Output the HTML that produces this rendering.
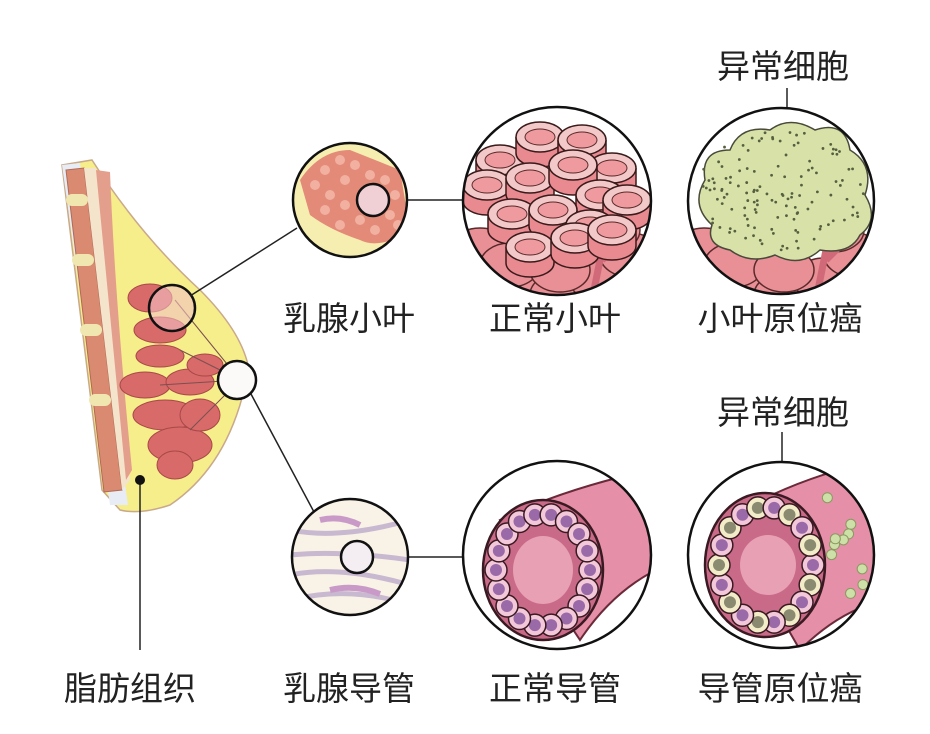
<!DOCTYPE html>
<html><head><meta charset="utf-8"><style>
html,body{margin:0;padding:0;background:#fff;}
svg{display:block}
text{font-family:"Liberation Sans","Noto Sans CJK SC",sans-serif;font-size:33px;fill:#222;text-anchor:middle}
</style></head><body>
<svg id="s" width="930" height="734" viewBox="0 0 930 734" xmlns="http://www.w3.org/2000/svg">
<defs>
<clipPath id="c1"><circle cx="350" cy="200" r="57"/></clipPath>
<clipPath id="c2"><circle cx="350" cy="557" r="58"/></clipPath>
<clipPath id="c3"><circle cx="557" cy="201" r="94"/></clipPath>
<clipPath id="c4"><circle cx="781" cy="201" r="93"/></clipPath>
<clipPath id="c5"><circle cx="557" cy="555" r="94"/></clipPath>
<clipPath id="c6"><circle cx="781" cy="555" r="93"/></clipPath>
</defs>
<rect width="930" height="734" fill="#fff"/>
<!-- breast -->
<path d="M62 165 L92 160 Q140 235 200 290 Q240 330 248 365 Q258 385 242 398 Q222 470 170 505 Q140 515 120 510 L102 490 Z" fill="#f6ee8a" stroke="#c9a98a" stroke-width="1.5"/>
<path d="M62 165 L80 163 L128 505 L110 505 Z" fill="#e7ecf5"/>
<path d="M66 170 L84 168 L122 490 L104 492 Z" fill="#d98a70" stroke="#b06a55"/>
<path d="M84 168 L96 168 L130 480 L122 490 Z" fill="#f4e4cc"/>
<path d="M72 200 l10 0 M78 260 l10 0 M86 330 l10 0 M95 400 l10 0" stroke="#f0e6b0" stroke-width="12" stroke-linecap="round"/>
<path d="M96 170 L110 172 Q115 300 132 470 L126 480 Z" fill="#e49e8c"/>
<g fill="#d96a6a" stroke="#a84848" stroke-width="1">
<ellipse cx="150" cy="298" rx="22" ry="14"/>
<ellipse cx="160" cy="330" rx="26" ry="13"/>
<ellipse cx="160" cy="356" rx="24" ry="11"/>
<ellipse cx="145" cy="385" rx="25" ry="13"/>
<ellipse cx="190" cy="382" rx="24" ry="13"/>
<ellipse cx="165" cy="415" rx="32" ry="15"/>
<ellipse cx="180" cy="445" rx="32" ry="18"/>
<ellipse cx="200" cy="415" rx="20" ry="16"/>
<ellipse cx="175" cy="465" rx="18" ry="14"/>
<ellipse cx="205" cy="365" rx="18" ry="11"/>
</g>
<path d="M240 380 L175 300 M240 380 L180 350 M240 380 L160 385 M240 380 L190 430" stroke="#7a5050" stroke-width="1"/>
<circle cx="172" cy="308" r="23" fill="#f2c2c2" fill-opacity="0.6" stroke="#111" stroke-width="2.5"/>
<circle cx="237" cy="380" r="19" fill="#fbfaf8" stroke="#111" stroke-width="2.5"/>
<!-- connectors -->
<g stroke="#222" stroke-width="1.5" fill="none">
<line x1="190" y1="296" x2="297" y2="228"/>
<line x1="251" y1="394" x2="314" y2="512"/>
<line x1="389" y1="200" x2="463" y2="200"/>
<line x1="373" y1="557" x2="463" y2="557"/>
<line x1="787" y1="145" x2="787" y2="88"/>
<line x1="782" y1="511" x2="782" y2="432"/>
<line x1="140" y1="480" x2="140" y2="650"/>
</g>
<circle cx="787" cy="145" r="6" fill="#111"/>
<circle cx="782" cy="511" r="6" fill="#111"/>
<circle cx="140" cy="480" r="5" fill="#111"/>
<!-- small lobule -->
<g clip-path="url(#c1)"><rect x="290" y="140" width="120" height="120" fill="#f6eeb0"/>
<path d="M300 180 Q320 150 350 150 L400 170 L410 230 Q380 250 360 240 Q330 230 310 215 Z" fill="#e48a78"/>
<g id="dots1" fill="#f1b0a0"></g></g>
<circle cx="350" cy="200" r="57" fill="none" stroke="#111" stroke-width="2.5"/>
<circle cx="373" cy="200" r="16" fill="#f0d0d4" stroke="#111" stroke-width="2.5"/>
<!-- small duct -->
<g clip-path="url(#c2)"><rect x="290" y="495" width="120" height="125" fill="#f8f3e6"/>
<path d="M290 530 Q340 540 410 520 M290 555 Q340 550 410 560 M290 575 Q340 565 410 585 M290 600 Q350 585 410 605" stroke="#c8b8d0" stroke-width="5" fill="none"/>
<path d="M320 520 q20 -5 40 5 M330 590 q25 -6 50 4" stroke="#c99ac8" stroke-width="6" fill="none"/></g>
<circle cx="350" cy="557" r="58" fill="none" stroke="#111" stroke-width="2.5"/>
<circle cx="357" cy="557" r="16" fill="#f4eef2" stroke="#111" stroke-width="2.5"/>
<!-- normal lobule -->
<g clip-path="url(#c3)" id="g3"><rect x="460" y="105" width="200" height="200" fill="#fff"/></g>
<circle cx="557" cy="201" r="94" fill="none" stroke="#111" stroke-width="2.5"/>
<!-- lobule CIS -->
<g clip-path="url(#c4)" id="g4"><rect x="685" y="105" width="200" height="200" fill="#fff"/></g>
<circle cx="781" cy="201" r="93" fill="none" stroke="#111" stroke-width="2.5"/>
<!-- normal duct -->
<g clip-path="url(#c5)" id="g5"><rect x="460" y="458" width="200" height="200" fill="#fff"/>
<path d="M500 520 Q560 490 650 470 L680 560 Q620 580 580 640 Z" fill="#e58fa8" stroke="#6a2a3a" stroke-width="2"/>
<ellipse cx="543" cy="570" rx="60" ry="70" fill="#c96a88" stroke="#3a1a22" stroke-width="2.5"/>
<ellipse cx="543" cy="570" rx="30" ry="34" fill="#e8a0b4"/></g>
<circle cx="557" cy="555" r="94" fill="none" stroke="#111" stroke-width="2.5"/>
<!-- duct CIS -->
<g clip-path="url(#c6)" id="g6"><rect x="685" y="458" width="200" height="200" fill="#fff"/>
<path d="M725 520 Q790 480 870 462 L885 600 Q840 610 800 650 Z" fill="#e58fa8" stroke="#6a2a3a" stroke-width="2"/>
<ellipse cx="765" cy="565" rx="60" ry="72" fill="#c96a88" stroke="#3a1a22" stroke-width="2.5"/>
<ellipse cx="768" cy="565" rx="28" ry="30" fill="#e8a0b4"/></g>
<circle cx="781" cy="555" r="93" fill="none" stroke="#111" stroke-width="2.5"/>
<!-- labels -->
<text x="349" y="330">乳腺小叶</text>
<text x="555" y="330">正常小叶</text>
<text x="780" y="330">小叶原位癌</text>
<text x="783" y="78">异常细胞</text>
<text x="783" y="424">异常细胞</text>
<text x="130" y="700">脂肪组织</text>
<text x="349" y="700">乳腺导管</text>
<text x="555" y="700">正常导管</text>
<text x="780" y="700">导管原位癌</text>
</svg>
<script>
var NS="http://www.w3.org/2000/svg";
function el(p,t,a){var e=document.createElementNS(NS,t);for(var k in a)e.setAttribute(k,a[k]);p.appendChild(e);return e;}
var d1=document.getElementById("dots1");
var pts=[[315,185],[325,170],[340,160],[355,165],[370,175],[385,180],[395,195],[330,195],[345,205],[360,220],[375,230],[390,215],[325,210],[345,180],[398,225],[340,225]];
pts.forEach(function(p){el(d1,"circle",{cx:p[0],cy:p[1],r:5});});
// lobule clusters
function lobule(g,cx,cy,cis){
 var base=[[490,280],[520,290],[560,295],[600,280],[630,255],[480,250],[510,265],[560,270],[610,230]];
 base.forEach(function(p){el(g,"ellipse",{cx:p[0]+(cx-557),cy:p[1],rx:30,ry:22,fill:"#e98f96",stroke:"#5a2a2a","stroke-width":1.5});});
 el(g,"path",{d:"M"+(cx+35)+" 300 L"+(cx+45)+" 250 M"+(cx+45)+" 260 L"+(cx+65)+" 240",stroke:"#d06a78","stroke-width":7,fill:"none"});
 if(!cis){
  var tubes=[[500,160],[540,137],[582,140],[612,168],[487,185],[530,178],[573,165],[600,195],[627,200],[512,214],[553,210],[590,225],[530,247],[575,238],[612,230]];
  tubes.forEach(function(t){
   el(g,"path",{d:"M"+(t[0]-24)+" "+t[1]+" v16 a24 14 0 0 0 48 0 v-16",fill:"#e88a90",stroke:"#3a1a1a","stroke-width":1.5});
   el(g,"ellipse",{cx:t[0],cy:t[1],rx:24,ry:15,fill:"#f2c8c8",stroke:"#3a1a1a","stroke-width":1.5});
   el(g,"ellipse",{cx:t[0],cy:t[1],rx:15,ry:8,fill:"#ee9a9e",stroke:"#5a2a2a","stroke-width":1});
  });
 } else {
  el(g,"path",{d:"M705 180 Q700 150 730 150 Q740 125 770 130 Q790 115 815 130 Q845 120 850 150 Q875 165 865 195 Q880 220 860 235 Q850 255 820 250 Q800 268 775 255 Q750 265 730 250 Q705 245 712 225 Q690 205 705 180 Z",fill:"#d8e2a8",stroke:"#4a4a3a","stroke-width":1.5});
  for(var i=0;i<160;i++){var x=700+Math.random()*165,y=130+Math.random()*120;
   var dx=(x-783)/85,dy=(y-190)/60; if(dx*dx+dy*dy<1) el(g,"circle",{cx:x,cy:y,r:1.4,fill:"#556040"});}
 }
}
lobule(document.getElementById("g3"),557,201,false);
lobule(document.getElementById("g4"),781,201,true);
function ring(g,cx,cy,rx,ry,n,fills,nuc){
 for(var i=0;i<n;i++){var a=i/n*2*Math.PI;var x=cx+rx*Math.cos(a),y=cy+ry*Math.sin(a);
  el(g,"circle",{cx:x,cy:y,r:11,fill:fills[i%fills.length],stroke:"#3a1a22","stroke-width":1.5});
  el(g,"circle",{cx:x,cy:y,r:6,fill:nuc[i%nuc.length]});}
}
ring(document.getElementById("g5"),543,570,47,56,18,["#f3c8d8"],["#9a6aa8"]);
ring(document.getElementById("g6"),766,565,47,58,18,["#f3c8d8","#f3ecc8","#f3c8d8","#f3ecc8"],["#9a6aa8","#8a8a70"]);
var g6=document.getElementById("g6");
for(var i=0;i<14;i++){el(g6,"circle",{cx:825+Math.random()*50,cy:480+Math.random()*120,r:5,fill:"#cde0a8",stroke:"#8a9a60","stroke-width":1});}
</script>
</body></html>
